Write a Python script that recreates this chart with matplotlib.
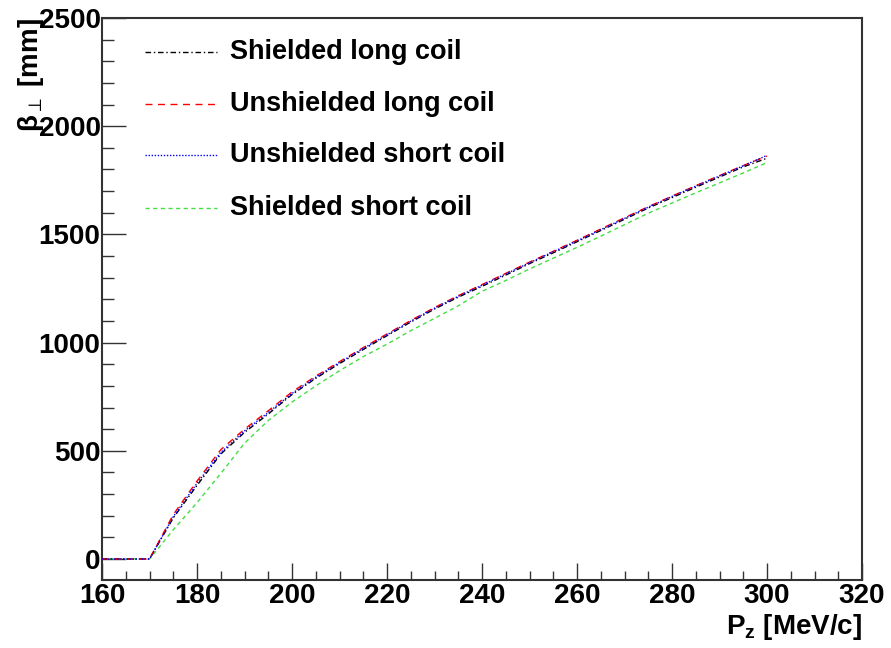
import matplotlib
matplotlib.use("Agg")
import matplotlib.pyplot as plt
from matplotlib.ticker import MultipleLocator

plt.rcParams['font.family'] = ['Liberation Sans', 'DejaVu Sans']
plt.rcParams['mathtext.fontset'] = 'custom'
plt.rcParams['mathtext.rm'] = 'Liberation Sans'
plt.rcParams['mathtext.bf'] = 'Liberation Sans:bold'
plt.rcParams['mathtext.it'] = 'Liberation Sans:italic'

pz = [160, 165, 170, 175, 180, 185, 190, 195, 200, 205, 210, 215, 220, 225, 230,
      235, 240, 245, 250, 255, 260, 265, 270, 275, 280, 285, 290, 295, 300]

shielded_long = [0, 0, 0, 190, 340, 485, 585, 670, 760, 835, 903, 968, 1032, 1095, 1155,
                 1210, 1260, 1312, 1365, 1415, 1466, 1518, 1570, 1622, 1670, 1718, 1765, 1812, 1852]
unshielded_long = [0, 0, 0, 205, 360, 505, 600, 685, 772, 845, 912, 977, 1040, 1102, 1162,
                   1217, 1268, 1320, 1372, 1422, 1473, 1525, 1577, 1628, 1677, 1725, 1772, 1818, 1862]
unshielded_short = [0, 0, 0, 195, 350, 492, 592, 677, 765, 840, 908, 973, 1036, 1099, 1159,
                    1214, 1265, 1317, 1369, 1420, 1470, 1522, 1574, 1626, 1675, 1723, 1770, 1817, 1865]
shielded_short = [0, 0, 0, 135, 260, 395, 535, 640, 725, 800, 870, 935, 993, 1055, 1112,
                  1170, 1237, 1287, 1340, 1390, 1440, 1492, 1545, 1598, 1645, 1692, 1738, 1784, 1832]

labels = ["Shielded long coil", "Unshielded long coil", "Unshielded short coil", "Shielded short coil"]
x_ticks = [160, 180, 200, 220, 240, 260, 280, 300, 320]
y_ticks = [0, 500, 1000, 1500, 2000, 2500]

fig = plt.figure(figsize=(8.91, 6.48), dpi=100)
ax = fig.add_axes([102/891, 1-580/648, 760/891, 562/648])

styles = [
    dict(color='black', linestyle=(0, (4, 2, 1, 2)), lw=1.0),
    dict(color='red', linestyle=(0, (5, 4)), lw=1.0),
    dict(color='blue', linestyle=(0, (1, 1.2)), lw=1.0),
    dict(color='#44dd44', linestyle=(0, (3, 2.5)), lw=1.0),
]
series = [shielded_long, unshielded_long, unshielded_short, shielded_short]
order = [3, 0, 1, 2]
for i in order:
    ax.plot(pz, series[i], **styles[i], zorder=3)

# legend (manual, no frame)
ly = [52, 104, 155, 208]
for i in range(4):
    yf = 1 - (ly[i] - 18) / 562
    ax.plot([(145-102)/760, (217-102)/760], [yf, yf], transform=ax.transAxes, **styles[i], clip_on=False)
    ax.text((230-102)/760, yf, labels[i], transform=ax.transAxes, fontsize=19.5,
            fontweight='bold', va='center', ha='left')

ax.set_xlim(160, 320)
ax.set_ylim(-97, 2500)
ax.set_xticks(x_ticks)
ax.set_yticks(y_ticks)
ax.xaxis.set_minor_locator(MultipleLocator(5))
ax.yaxis.set_minor_locator(MultipleLocator(100))
ax.tick_params(axis='x', which='major', direction='in', length=12, width=1.0, pad=2,
               labelsize=20, top=False, color='#333333')
ax.tick_params(axis='x', which='minor', direction='in', length=6.5, width=1.0, top=False, color='#333333')
ax.tick_params(axis='y', which='major', direction='in', length=17, width=1.0, pad=1,
               labelsize=20, right=False, color='#333333')
ax.tick_params(axis='y', which='minor', direction='in', length=8.5, width=1.0, right=False, color='#333333')
for lab in ax.get_xticklabels() + ax.get_yticklabels():
    lab.set_fontweight('bold')
for sp in ax.spines.values():
    sp.set_linewidth(1.5)
    sp.set_color('#333333')

ax.set_xlabel(r'P$_{\mathbf{z}}$ [MeV/c]', fontsize=20, fontweight='bold', loc='right', labelpad=2)
ax.set_ylabel(r'β$_{\perp}$ [mm]', fontsize=20, fontweight='bold', loc='top')
ax.yaxis.set_label_coords(-0.0735, 1.0)

fig.savefig('out.png', dpi=100)
